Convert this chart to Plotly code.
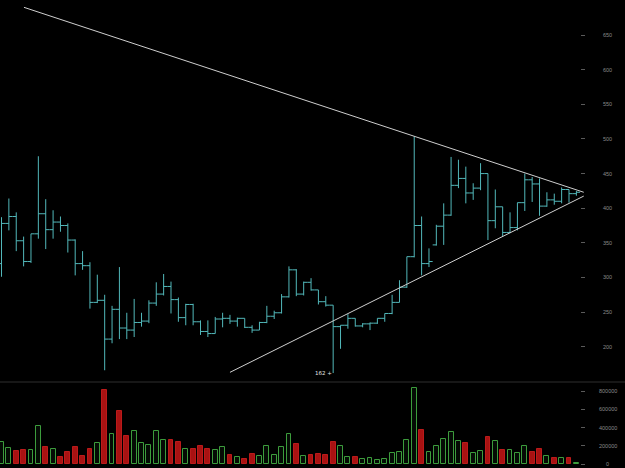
import plotly.graph_objects as go

# ---------------- data ----------------
opens = [320, 378, 388, 353, 323, 363, 392, 369, 380, 375,
         354, 320, 317, 264, 267, 211, 254, 227, 224, 235,
         237, 263, 276, 287, 268, 242, 261, 236, 222, 219,
         240, 241, 237, 241, 228, 224, 235, 244, 249, 272,
         311, 276, 293, 282, 265, 260, 229, 231, 241, 230,
         233, 234, 241, 248, 264, 286, 330, 375, 320, 347,
         374, 390, 433, 443, 422, 429, 450, 382, 402, 365,
         372, 408, 441, 435, 403, 412, 410, 427, 421]
highs = [387, 414, 394, 359, 363, 475, 413, 397, 388, 378,
         355, 338, 322, 304, 275, 259, 315, 249, 269, 249,
         267, 293, 305, 294, 271, 262, 262, 238, 238, 243,
         249, 246, 242, 241, 231, 236, 259, 252, 276, 316,
         312, 294, 299, 282, 273, 260, 231, 247, 241, 234,
         235, 241, 248, 275, 296, 330, 504, 388, 342, 376,
         407, 474, 470, 460, 436, 465, 450, 427, 402, 394,
         408, 450, 445, 443, 423, 421, 430, 427, 425]
lows = [301, 368, 338, 316, 321, 356, 341, 356, 366, 336,
        303, 311, 255, 263, 166, 205, 211, 211, 214, 229,
        234, 259, 274, 248, 236, 231, 231, 217, 214, 219,
        228, 233, 229, 227, 220, 224, 234, 240, 248, 271,
        273, 274, 281, 261, 258, 162, 197, 226, 229, 228,
        224, 233, 236, 247, 264, 285, 329, 303, 315, 346,
        347, 389, 429, 407, 412, 426, 354, 371, 359, 364,
        368, 396, 409, 389, 402, 405, 407, 408, 418]
closes = [378, 388, 353, 323, 363, 392, 369, 380, 375, 354,
          320, 317, 264, 267, 211, 254, 227, 224, 235, 237,
          263, 276, 287, 268, 242, 261, 236, 222, 219, 240,
          241, 237, 241, 228, 224, 235, 244, 249, 272, 311,
          276, 293, 282, 265, 260, 229, 231, 241, 230, 233,
          234, 241, 248, 264, 286, 330, 375, 320, 323, 374,
          390, 433, 443, 422, 429, 450, 382, 402, 365, 372,
          408, 441, 435, 403, 412, 410, 427, 421, 423]
volumes_k = [243, 171, 142, 153, 149, 415, 186, 160, 76, 131,
             182, 87, 164, 226, 815, 331, 586, 306, 367, 229,
             204, 357, 259, 259, 244, 160, 160, 195, 160, 149,
             182, 98, 73, 58, 109, 84, 196, 95, 186, 327,
             218, 84, 98, 109, 98, 244, 196, 73, 73, 51,
             62, 44, 51, 117, 131, 259, 837, 378, 131, 196,
             269, 346, 247, 233, 124, 138, 295, 247, 153, 149,
             124, 196, 131, 164, 84, 66, 62, 62, 8]
volumes = [v * 1000 for v in volumes_k]
idx = list(range(len(opens)))

# trendlines (bar index, price)
upper_x = [3.05, 79]
upper_y = [690, 423]
lower_x = [31, 79]
lower_y = [163, 417.5]

price_ticks = [200, 250, 300, 350, 400, 450, 500, 550, 600, 650]
volume_ticks = [0, 200000, 400000, 600000, 800000]

# ---------------- style ----------------
W, H = 625, 468
PLOT_W = 585
OHLC_C = "#52b8ba"
GREEN_LINE = "#3c9c3c"
GREEN_FILL = "#050b05"
RED_LINE = "#bb1a1a"
RED_FILL = "#a81212"
TREND_C = "#cfcfcf"
LABEL_C = "#8a8a8a"

fig = go.Figure()

fig.add_trace(go.Ohlc(
    x=idx, open=opens, high=highs, low=lows, close=closes,
    tickwidth=0.5,
    increasing=dict(line=dict(color=OHLC_C, width=1)),
    decreasing=dict(line=dict(color=OHLC_C, width=1)),
    xaxis="x", yaxis="y", hoverinfo="skip", showlegend=False,
))

fig.add_trace(go.Scatter(x=upper_x, y=upper_y, mode="lines",
                         line=dict(color=TREND_C, width=1),
                         xaxis="x", yaxis="y", hoverinfo="skip", showlegend=False))
fig.add_trace(go.Scatter(x=lower_x, y=lower_y, mode="lines",
                         line=dict(color=TREND_C, width=1),
                         xaxis="x", yaxis="y", hoverinfo="skip", showlegend=False))

up = [c >= o for o, c in zip(opens, closes)]
fig.add_trace(go.Bar(
    x=idx, y=volumes, width=0.66,
    marker=dict(color=[GREEN_FILL if u else RED_FILL for u in up],
                line=dict(color=[GREEN_LINE if u else RED_LINE for u in up], width=1)),
    xaxis="x2", yaxis="y2", hoverinfo="skip", showlegend=False,
))

xr = [-0.2035, 79.17]
price_dom = [1 - 381 / H, 1]
vol_dom = [0, 86 / H]

axis_common = dict(side="right", showgrid=False, zeroline=False, showline=False,
                   ticks="inside", ticklen=4, tickcolor="#5a5a5a", tickwidth=1,
                   showticklabels=False, fixedrange=True)

fig.update_layout(
    width=W, height=H,
    margin=dict(l=0, r=W - PLOT_W, t=0, b=0),
    paper_bgcolor="#000000", plot_bgcolor="#000000",
    showlegend=False, bargap=0,
    xaxis=dict(domain=[0, 1], range=xr, visible=False, anchor="y",
               rangeslider=dict(visible=False), fixedrange=True),
    xaxis2=dict(domain=[0, 1], range=xr, visible=False, anchor="y2",
                matches="x", fixedrange=True),
    yaxis=dict(domain=price_dom, range=[150.5, 700.6], anchor="x",
               tickvals=price_ticks, **axis_common),
    yaxis2=dict(domain=vol_dom, range=[-43836, 898630], anchor="x2",
                tickvals=volume_ticks, **axis_common),
)

# separator between panels
fig.add_shape(type="line", xref="paper", yref="paper",
              x0=0, x1=W / PLOT_W, y0=vol_dom[1], y1=vol_dom[1],
              line=dict(color="#2e2e2e", width=1))

label_x = 607.5 / PLOT_W
annotations = []
for t in price_ticks:
    annotations.append(dict(x=label_x, xref="paper", y=t, yref="y", text=str(t),
                            showarrow=False, xanchor="center", yanchor="middle",
                            font=dict(family="Liberation Sans", size=5.5, color=LABEL_C)))
for t in volume_ticks:
    annotations.append(dict(x=label_x, xref="paper", y=t, yref="y2", text=str(t),
                            showarrow=False, xanchor="center", yanchor="middle",
                            font=dict(family="Liberation Sans", size=5.5, color=LABEL_C)))

min_low = min(lows)
i_min = lows.index(min_low)
annotations.append(dict(x=i_min, xref="x", y=min_low, yref="y", text=f"{min_low} +",
                        showarrow=False, xanchor="right", yanchor="middle", xshift=1,
                        font=dict(family="DejaVu Sans", size=5.5, color="#e6e6e6")))
fig.update_layout(annotations=annotations)

fig.write_html("out.html", config={"displayModeBar": False})
